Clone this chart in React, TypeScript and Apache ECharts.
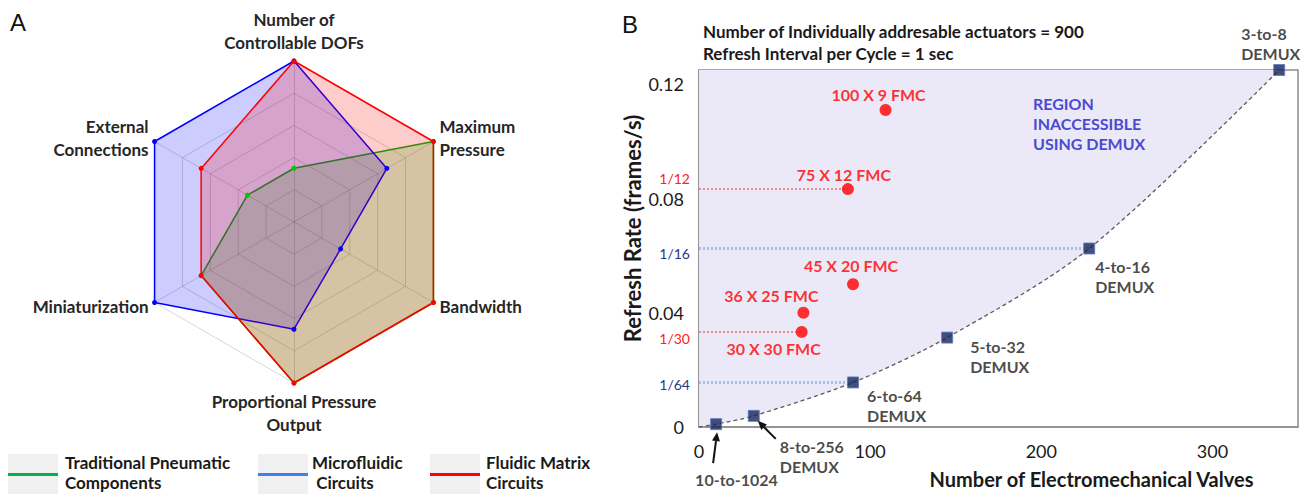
import React, { useEffect, useRef } from 'react';
import * as echarts from 'echarts';

const FONT = "Lato, 'Noto Sans', sans-serif";

// ---------- Panel A : radar ----------
// indicators in ECharts order (counter-clockwise from top)
const radarAxes = [
  'Number of\nControllable DOFs',
  'External\nConnections',
  'Miniaturization',
  'Proportional Pressure\nOutput',
  'Bandwidth',
  'Maximum\nPressure',
];
const radarMax = 5;
const radarSeriesNames = ['Traditional Pneumatic Components', 'Microfluidic Circuits', 'Fluidic Matrix Circuits'];
const traditionalValues = [1.67, 1.67, 3.33, 5, 5, 5];
const microfluidicValues = [5, 5, 5, 3.33, 1.67, 3.33];
const fluidicMatrixValues = [5, 3.33, 3.33, 5, 5, 5];
const legendLines = [
  ['Traditional Pneumatic', 'Components'],
  ['Microfluidic', ' Circuits'],
  ['Fluidic Matrix', 'Circuits'],
];

// ---------- Panel B : refresh rate vs valves ----------
const demuxLabels = ['10-to-1024', '8-to-256\nDEMUX', '6-to-64\nDEMUX', '5-to-32\nDEMUX', '4-to-16\nDEMUX', '3-to-8\nDEMUX'];
const demuxValves = [10, 32, 90, 145, 228, 339];
const demuxRates = [0.001, 0.0039, 0.0156, 0.0313, 0.0625, 0.125];
const trendValves = [0, 10, 32, 90, 145, 228, 339];
const trendRates = [0, 0.001, 0.0039, 0.0156, 0.0313, 0.0625, 0.125];
const fmcLabels = ['100 X 9 FMC', '75 X 12 FMC', '45 X 20 FMC', '36 X 25 FMC', '30 X 30 FMC'];
const fmcValves = [109, 87, 90, 61, 60];
const fmcRates = [0.111, 0.0833, 0.05, 0.04, 0.0333];
const guideLabels = ['1/12', '1/16', '1/30', '1/64'];
const guideRates = [0.0833, 0.0625, 0.0333, 0.0156];
const guideEndValves = [87, 228, 60, 90];
const guideKinds = ['fmc', 'demux', 'fmc', 'demux'];
const titleLines = ['Number of Individually addresable actuators = 900', 'Refresh Interval per Cycle = 1 sec'];
const regionLines = ['REGION', 'INACCESSIBLE', 'USING DEMUX'];

// ---------- styles / layout ----------
const radarStyles = [
  { line: '#00b000', dot: '#00c800', fill: 'rgba(0,200,0,0.2)', legend: '#00b050' },
  { line: '#0000ff', dot: '#0000ff', fill: 'rgba(0,0,255,0.2)', legend: '#3d7ef0' },
  { line: '#ff0000', dot: '#ff0000', fill: 'rgba(255,0,0,0.2)', legend: '#ff0000' },
];
const legendLayout = [
  { box: 8, text: [65, 65] },
  { box: 258, text: [312, 312] },
  { box: 430, text: [486, 486] },
];
const demuxLabelOffsets = [[-21, 55], [26, 41], [14, 23], [23, 19], [6, 28], [-38, -27]];
const fmcLabelOffsets = [[-7, -15], [-4, -15], [-2, -19], [-32, -17], [-28, 17]];
const guideLabelDy = [-11, 5, 7, 2];
const guideStyles: Record<string, any> = {
  fmc: { line: '#f08c8c', width: 2, text: '#ff2020' },
  demux: { line: '#a9bdf5', width: 3, text: '#1f3a85' },
};
const arrows = [
  { index: 0, tail: [-3, 39], tip: [1, 8] },
  { index: 1, tail: [22, 23], tip: [4, 5] },
];

function buildOption(): any {
  const radarValues = [traditionalValues, microfluidicValues, fluidicMatrixValues];
  const radarSeries = radarValues.map((vals, i) => ({
    type: 'radar',
    name: radarSeriesNames[i],
    z: 2,
    symbol: 'circle',
    symbolSize: 5,
    lineStyle: { color: radarStyles[i].line, width: 1.5 },
    itemStyle: { color: radarStyles[i].dot },
    areaStyle: { color: radarStyles[i].fill, opacity: 1 },
    silent: true,
    data: [{ value: vals, name: radarSeriesNames[i] }],
  }));

  return {
    animation: false,
    textStyle: { fontFamily: FONT },
    radar: {
      center: [294, 222],
      radius: 161,
      startAngle: 90,
      splitNumber: 5,
      shape: 'polygon',
      nameGap: 7,
      indicator: radarAxes.map((name) => ({ name, min: 0, max: radarMax })),
      axisName: { color: '#262626', fontSize: 17, fontWeight: 'bold', fontFamily: FONT, lineHeight: 23 },
      splitLine: { lineStyle: { color: 'rgba(0,0,0,0.16)', width: 1 } },
      splitArea: { show: false },
      axisLine: { lineStyle: { color: 'rgba(0,0,0,0.16)', width: 1 } },
    },
    grid: {
      left: 699, top: 70, width: 600, height: 360,
      show: true, borderColor: '#8c8c8c', borderWidth: 1.5, backgroundColor: 'transparent',
    },
    xAxis: {
      type: 'value', min: 0, max: 350, interval: 100,
      axisLine: { show: true, lineStyle: { color: '#8c8c8c', width: 1.5 } },
      axisTick: { show: false },
      splitLine: { show: false },
      axisLabel: {
        fontSize: 18, color: '#1a1a1a', margin: 15, fontFamily: FONT,
        formatter: (v: number) => (Math.abs(v % 100) < 1e-9 ? String(v) : ''),
      },
      name: 'Number of Electromechanical Valves',
      nameLocation: 'middle',
      nameGap: 42,
      nameTextStyle: { fontSize: 20, fontWeight: 'bold', color: '#1a1a1a', fontFamily: FONT, padding: [0, 0, 0, 186] },
    },
    yAxis: {
      type: 'value', min: 0, max: 0.125, interval: 0.04,
      axisLine: { show: true, lineStyle: { color: '#8c8c8c', width: 1.5 } },
      axisTick: { show: false },
      splitLine: { show: false },
      axisLabel: {
        fontSize: 18, color: '#1a1a1a', margin: 15, fontFamily: FONT,
        formatter: (v: number) => {
          const k = v / 0.04;
          if (Math.abs(k - Math.round(k)) > 1e-6) return '';
          return v === 0 ? '0' : v.toFixed(2);
        },
      },
      name: 'Refresh Rate (frames/s)',
      nameLocation: 'middle',
      nameGap: 56,
      nameTextStyle: { fontSize: 22, fontWeight: 'bold', color: '#1a1a1a', fontFamily: FONT, padding: [0, 0, 0, 40] },
    },
    series: [
      ...radarSeries,
      {
        type: 'line',
        name: 'DEMUX trend',
        z: 1,
        silent: true,
        smooth: 0.3,
        symbol: 'none',
        data: trendValves.map((x, i) => [x, trendRates[i]]),
        lineStyle: { color: '#5a5a5a', width: 1.3, type: [4, 3] },
        areaStyle: { origin: 'end', color: '#ebe9f7', opacity: 1 },
      },
      {
        type: 'line',
        name: 'guides',
        z: 3,
        silent: true,
        data: [],
        markLine: {
          silent: true,
          symbol: ['none', 'none'],
          label: { show: false },
          data: guideRates.map((y, i) => [
            {
              coord: [0, y],
              lineStyle: {
                color: guideStyles[guideKinds[i]].line,
                width: guideStyles[guideKinds[i]].width,
                type: [2, 2],
              },
            },
            { coord: [guideEndValves[i], y] },
          ]),
        },
      },
      {
        type: 'scatter',
        name: 'DEMUX',
        z: 5,
        silent: true,
        symbol: 'rect',
        symbolSize: 11,
        itemStyle: { color: '#142658', borderColor: '#5a78c4', borderWidth: 1 },
        data: demuxValves.map((x, i) => ({
          value: [x, demuxRates[i]],
          name: demuxLabels[i],
          label: {
            show: true,
            position: 'inside',
            align: 'left',
            verticalAlign: 'middle',
            offset: demuxLabelOffsets[i],
            formatter: '{b}',
            fontSize: 16,
            fontWeight: 'bold',
            color: '#1a1a1a',
            lineHeight: 20,
            fontFamily: FONT,
          },
        })),
      },
      {
        type: 'scatter',
        name: 'FMC',
        z: 6,
        silent: true,
        symbol: 'circle',
        symbolSize: 12,
        itemStyle: { color: '#ff0000' },
        data: fmcValves.map((x, i) => ({
          value: [x, fmcRates[i]],
          name: fmcLabels[i],
          label: {
            show: true,
            position: 'inside',
            align: 'center',
            verticalAlign: 'middle',
            offset: fmcLabelOffsets[i],
            formatter: '{b}',
            fontSize: 16,
            fontWeight: 'bold',
            color: '#ff0000',
            fontFamily: FONT,
          },
        })),
      },
    ],
  };
}

function staticGraphics(): any[] {
  const g: any[] = [
    { type: 'text', x: 10, y: 10, style: { text: 'A', fontSize: 24, fontFamily: 'Liberation Sans, Arial, sans-serif', fill: '#111' } },
    { type: 'text', x: 622, y: 12, style: { text: 'B', fontSize: 24, fontFamily: 'Liberation Sans, Arial, sans-serif', fill: '#111' } },
    {
      type: 'text', x: 703, y: 20,
      style: { text: titleLines.join('\n'), fontSize: 17, fontWeight: 'bold', fontFamily: FONT, fill: '#1a1a1a', lineHeight: 22 },
    },
    {
      type: 'text', x: 1033, y: 93, z: 4,
      style: { text: regionLines.join('\n'), fontSize: 16, fontWeight: 'bold', fontFamily: FONT, fill: '#4a4ad2', lineHeight: 20 },
    },
  ];
  legendLayout.forEach((l, i) => {
    g.push({ type: 'rect', shape: { x: l.box, y: 454, width: 50, height: 40 }, style: { fill: '#f0f0f0' } });
    g.push({ type: 'rect', shape: { x: l.box, y: 473, width: 50, height: 3 }, style: { fill: radarStyles[i].legend } });
    legendLines[i].forEach((t, j) => {
      g.push({
        type: 'text', x: l.text[j], y: 462 + j * 20,
        style: { text: t, fontSize: 17, fontWeight: 'bold', fontFamily: FONT, fill: '#1a1a1a', verticalAlign: 'middle', align: 'left' },
      });
    });
  });
  return g;
}

export default function App() {
  const ref = useRef<HTMLDivElement>(null);
  useEffect(() => {
    document.body.style.margin = '0';
    const chart = echarts.init(ref.current as HTMLDivElement, null, { renderer: 'svg' });
    chart.setOption(buildOption());

    const g = staticGraphics();
    const px = (x: number, y: number) => chart.convertToPixel({ gridIndex: 0 }, [x, y]) as number[];

    guideRates.forEach((y, i) => {
      const p = px(0, y);
      g.push({
        type: 'text', x: p[0] - 9, y: p[1] + guideLabelDy[i],
        style: {
          text: guideLabels[i], fontSize: 14, fontFamily: FONT,
          fill: guideStyles[guideKinds[i]].text, align: 'right', verticalAlign: 'middle',
        },
      });
    });

    arrows.forEach((a) => {
      const p = px(demuxValves[a.index], demuxRates[a.index]);
      const tail = [p[0] + a.tail[0], p[1] + a.tail[1]];
      const tip = [p[0] + a.tip[0], p[1] + a.tip[1]];
      const dx = tip[0] - tail[0];
      const dy = tip[1] - tail[1];
      const len = Math.hypot(dx, dy);
      const ux = dx / len;
      const uy = dy / len;
      const hl = 9;
      const hw = 4;
      const base = [tip[0] - ux * hl, tip[1] - uy * hl];
      g.push({ type: 'line', z: 10, shape: { x1: tail[0], y1: tail[1], x2: base[0], y2: base[1] }, style: { stroke: '#111', lineWidth: 2 } });
      g.push({
        type: 'polygon', z: 10,
        shape: { points: [tip, [base[0] - uy * hw, base[1] + ux * hw], [base[0] + uy * hw, base[1] - ux * hw]] },
        style: { fill: '#111' },
      });
    });

    chart.setOption({ graphic: g });
    return () => chart.dispose();
  }, []);
  return <div ref={ref} style={{ width: 1301, height: 494, position: 'absolute', left: 0, top: 0 }} />;
}
